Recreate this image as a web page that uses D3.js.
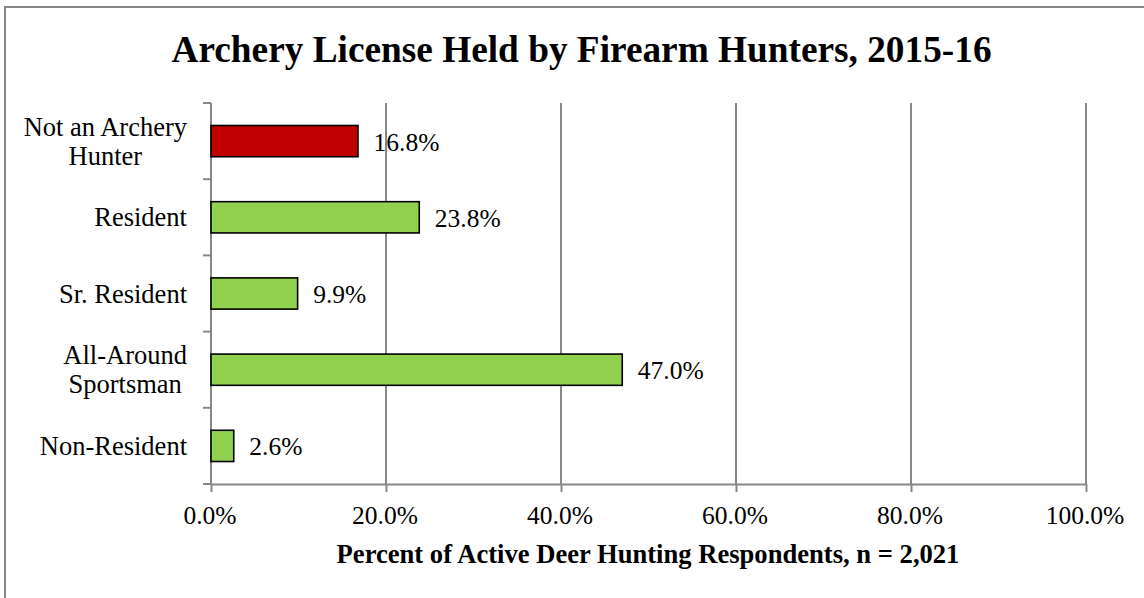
<!DOCTYPE html>
<html>
<head>
<meta charset="utf-8">
<script src="https://cdn.jsdelivr.net/npm/d3@7"></script>
<style>
html,body{margin:0;padding:0;background:#fff;}
svg{display:block;}
text{font-family:"Liberation Serif","Times New Roman",Times,serif;fill:#000;}
</style>
</head>
<body>
<svg id="chart" width="1144" height="598"></svg>
<script>
const categories = [["Not an Archery","Hunter"],["Resident"],["Sr. Resident"],["All-Around","Sportsman"],["Non-Resident"]];
const values = [16.8, 23.8, 9.9, 47.0, 2.6];
const barColors = ["#C00000","#92D050","#92D050","#92D050","#92D050"];
const xTicks = [0,20,40,60,80,100];
const title = "Archery License Held by Firearm Hunters, 2015-16";
const xTitle = "Percent of Active Deer Hunting Respondents, n = 2,021";

const svg = d3.select("#chart");
const W = 1144, H = 598;
const m = {left:211, right:1086, top:103, bottom:484};

// outer border
svg.append("rect").attr("x",5).attr("y",7).attr("width",W+10).attr("height",H+10)
  .attr("fill","#fff").attr("stroke","#888").attr("stroke-width",2);

const x = d3.scaleLinear().domain([0,100]).range([m.left,m.right]);
const idx = d3.range(categories.length);
const y = d3.scaleBand().domain(idx).range([m.top,m.bottom]).paddingInner(0.59).paddingOuter(0.295);
const step = y.step();

// gridlines
svg.append("g").selectAll("line").data(xTicks.slice(1)).join("line")
  .attr("x1",d=>x(d)).attr("x2",d=>x(d)).attr("y1",m.top).attr("y2",m.bottom)
  .attr("stroke","#888").attr("stroke-width",2);

// bottom axis
const xAxis = d3.axisBottom(x).tickValues(xTicks).tickSize(8).tickSizeOuter(0)
  .tickFormat(d=>d3.format(".1f")(d)+"%");
const gx = svg.append("g").attr("transform",`translate(0,${m.bottom})`).call(xAxis);
gx.select(".domain").attr("stroke","#888").attr("stroke-width",2);
gx.selectAll(".tick line").attr("stroke","#888").attr("stroke-width",2);
gx.selectAll(".tick text").attr("font-size",25.5).attr("font-family","Liberation Serif").attr("fill","#000").attr("dy",null).attr("y",39.5).attr("dx",-1.5);

// left axis line & boundary ticks
svg.append("line").attr("x1",m.left).attr("x2",m.left).attr("y1",m.top).attr("y2",m.bottom)
  .attr("stroke","#888").attr("stroke-width",2);
const bounds = d3.range(categories.length+1).map(i=>m.top+i*step);
svg.append("g").selectAll("line").data(bounds).join("line")
  .attr("x1",m.left-8).attr("x2",m.left).attr("y1",d=>d).attr("y2",d=>d)
  .attr("stroke","#888").attr("stroke-width",2);

// bars
svg.append("g").selectAll("rect").data(values).join("rect")
  .attr("x",x(0)).attr("y",(d,i)=>y(i)).attr("width",d=>x(d)-x(0)).attr("height",y.bandwidth())
  .attr("fill",(d,i)=>barColors[i]).attr("stroke","#000").attr("stroke-width",1.6);

// data labels
svg.append("g").selectAll("text").data(values).join("text")
  .attr("x",d=>x(d)+15.5).attr("y",(d,i)=>y(i)+y.bandwidth()/2+9.5)
  .attr("font-size",25.5).text(d=>d3.format(".1f")(d)+"%");

// category labels
const lh = 29, fs = 26.5, rightEdge = 187;
categories.forEach((lines,i)=>{
  const cy = y(i)+y.bandwidth()/2;
  const g = svg.append("g");
  const texts = lines.map((ln,j)=>g.append("text").attr("font-size",fs).text(ln)
      .attr("y",cy + 9 + (j-(lines.length-1)/2)*lh));
  const widths = texts.map(t=>t.node().getComputedTextLength());
  const maxW = d3.max(widths);
  const cx = rightEdge - maxW/2;
  texts.forEach(t=>t.attr("x",cx).attr("text-anchor","middle"));
});

// title
svg.append("text").attr("x",581.5).attr("y",62).attr("text-anchor","middle")
  .attr("font-size",37.3).attr("font-weight","bold").text(title);
// x axis title
svg.append("text").attr("x",648).attr("y",563).attr("text-anchor","middle")
  .attr("font-size",26.6).attr("font-weight","bold").text(xTitle);
</script>
</body>
</html>
